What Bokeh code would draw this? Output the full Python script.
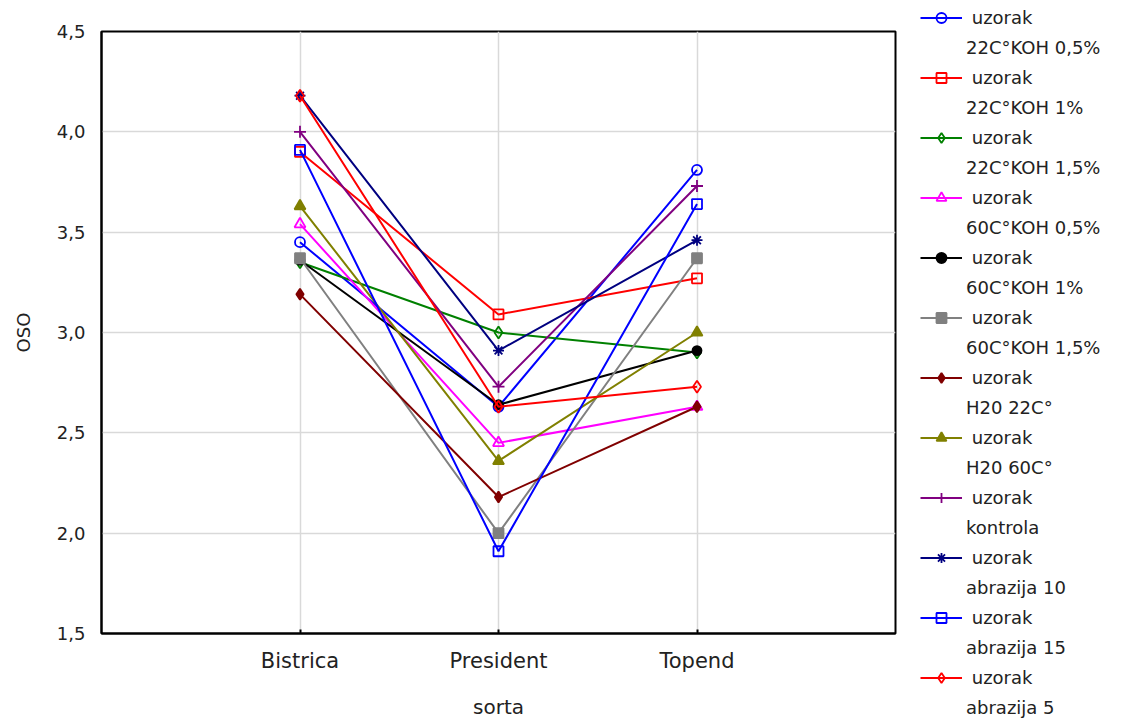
from bokeh.plotting import figure
from bokeh.layouts import row
from bokeh.models import FixedTicker, Legend, LegendItem, ColumnDataSource, Range1d
from bokeh.embed import file_html
from bokeh.resources import INLINE

categories = ["Bistrica", "President", "Topend"]
series_names = [
    "uzorak\n22C°KOH 0,5%", "uzorak\n22C°KOH 1%", "uzorak\n22C°KOH 1,5%",
    "uzorak\n60C°KOH 0,5%", "uzorak\n60C°KOH 1%", "uzorak\n60C°KOH 1,5%",
    "uzorak\nH20 22C°", "uzorak\nH20 60C°", "uzorak\nkontrola",
    "uzorak\nabrazija 10", "uzorak\nabrazija 15", "uzorak\nabrazija 5",
]
bistrica = [3.45, 3.90, 3.35, 3.54, 3.36, 3.37, 3.19, 3.63, 4.00, 4.18, 3.91, 4.18]
president = [2.63, 3.09, 3.00, 2.45, 2.64, 2.00, 2.18, 2.36, 2.73, 2.91, 1.91, 2.63]
topend = [3.81, 3.27, 2.90, 2.63, 2.91, 3.37, 2.63, 3.00, 3.73, 3.46, 3.64, 2.73]
y_ticks = [1.5, 2.0, 2.5, 3.0, 3.5, 4.0, 4.5]
y_tick_labels = ["1,5", "2,0", "2,5", "3,0", "3,5", "4,0", "4,5"]

colors = ["#0000ff", "#ff0000", "#008000", "#ff00ff", "#000000", "#808080",
          "#800000", "#808000", "#800080", "#000080", "#0000ff", "#ff0000"]
markers = ["circle", "square", "diamond", "triangle", "circle", "square",
           "diamond", "triangle", "cross", "asterisk", "square", "diamond"]
filled = [False, False, False, False, True, True, True, True, False, False, False, False]
sizes = [10, 10, 12, 11, 9, 10, 11, 11, 12, 11, 10, 12]

FONT = "DejaVu Sans"
H = 722

p = figure(width=897, height=H, output_backend="svg", toolbar_location=None,
           x_range=Range1d(0, len(categories) + 1), y_range=Range1d(1.5, 4.5),
           min_border_left=101, min_border_right=2, min_border_top=31,
           min_border_bottom=H - 633)
p.frame_align = False

p.outline_line_color = "black"
p.outline_line_width = 2
p.background_fill_color = "white"
p.border_fill_color = "white"

xs = list(range(1, len(categories) + 1))
p.xaxis.ticker = FixedTicker(ticks=xs)
p.xaxis.major_label_overrides = {x: c for x, c in zip(xs, categories)}
p.yaxis.ticker = FixedTicker(ticks=y_ticks)
p.yaxis.major_label_overrides = {t: l for t, l in zip(y_ticks, y_tick_labels)}

for ax in (p.xaxis[0], p.yaxis[0]):
    ax.axis_line_color = "black"
    ax.axis_line_width = 2
    ax.minor_tick_line_color = None
    ax.major_label_text_font = FONT
    ax.major_label_text_color = "#222222"
    ax.axis_label_text_font = FONT
    ax.axis_label_text_font_style = "normal"
    ax.axis_label_text_color = "#222222"

p.xaxis.major_tick_in = 4
p.xaxis.major_tick_out = 0
p.xaxis.major_tick_line_width = 2
p.xaxis.major_label_text_font_size = "21px"
p.xaxis.major_label_standoff = 15
p.xaxis.axis_label = "sorta"
p.xaxis.axis_label_text_font_size = "20px"
p.xaxis.axis_label_standoff = 19

p.yaxis.major_tick_in = 0
p.yaxis.major_tick_out = 0
p.yaxis.major_label_text_font_size = "18px"
p.yaxis.major_label_standoff = 16
p.yaxis.axis_label = "OSO"
p.yaxis.axis_label_text_font_size = "18px"
p.yaxis.axis_label_standoff = 20

p.xgrid.grid_line_color = "#d9d9d9"
p.ygrid.grid_line_color = "#d9d9d9"
p.xgrid.grid_line_width = 1.5
p.ygrid.grid_line_width = 1.5

# legend figure: hidden copies of the series carry the styles for the legend
lg = figure(width=1111 - 897, height=H, output_backend="svg", toolbar_location=None,
            x_range=Range1d(0, len(categories) + 1), y_range=Range1d(1.5, 4.5),
            x_axis_location=None, y_axis_location=None,
            min_border=0, outline_line_color=None)
lg.frame_align = False
lg.grid.visible = False

items = []
for i, name in enumerate(series_names):
    ys = [bistrica[i], president[i], topend[i]]
    src = ColumnDataSource(dict(x=xs, y=ys))
    c = colors[i]
    fc = c if filled[i] else None
    p.line("x", "y", source=src, line_color=c, line_width=2)
    p.scatter("x", "y", source=src, marker=markers[i], size=sizes[i],
              line_color=c, line_width=1.8, fill_color=fc)
    pl = lg.line("x", "y", source=src, line_color=c, line_width=2, visible=False)
    ps = lg.scatter("x", "y", source=src, marker=markers[i], size=sizes[i],
                    line_color=c, line_width=1.8, fill_color=fc, visible=False)
    dummy = lg.line("x", "y", source=src, line_alpha=0, visible=False)
    first, second = name.split("\n")
    items.append(LegendItem(label="\u00a0" + first, renderers=[pl, ps]))
    items.append(LegendItem(label=second, renderers=[dummy]))

legend = Legend(items=items, location=(23, H - 715 - 5), margin=0, padding=0,
                glyph_width=42, glyph_height=25, label_height=25, spacing=5,
                label_standoff=4, label_text_font=FONT, label_text_font_size="18px",
                label_text_color="#222222", background_fill_alpha=0,
                border_line_alpha=0)
lg.add_layout(legend, "center")

open("out.html", "w").write(file_html(row(p, lg), INLINE))
